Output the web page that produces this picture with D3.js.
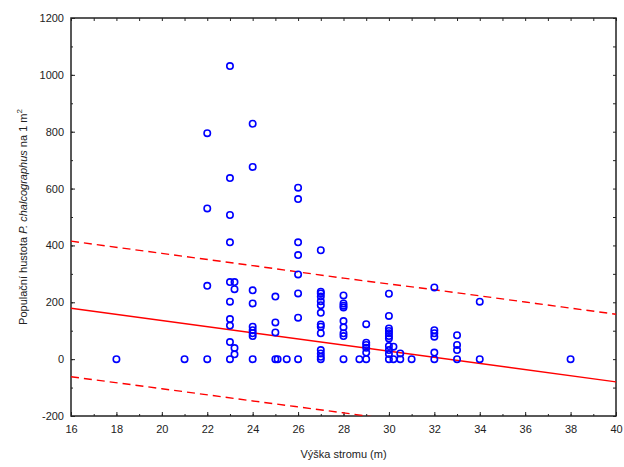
<!DOCTYPE html>
<html>
<head>
<meta charset="utf-8">
<script src="https://cdn.jsdelivr.net/npm/d3@7"></script>
<style>
  body { margin: 0; background: #fff; }
  text { font-family: "Liberation Sans", Arial, sans-serif; fill: #222; }
</style>
</head>
<body>
<div id="vis"></div>
<script>
// Tree height (m) vs. bark beetle density
var treeHeight = [
  18,
  21,
  22, 22, 22, 22,
  23, 23, 23, 23, 23, 23, 23, 23, 23, 23,
  23.2, 23.2, 23.2, 23.2,
  24, 24, 24, 24, 24, 24, 24, 24, 24,
  25, 25, 25, 25, 25.1,
  25.5,
  26, 26, 26, 26, 26, 26, 26, 26,
  27, 27, 27, 27, 27, 27, 27, 27, 27, 27, 27, 27, 27, 27,
  28, 28, 28, 28, 28, 28, 28, 28, 28,
  28.7,
  29, 29, 29, 29, 29, 29,
  30, 30, 30, 30, 30, 30, 30, 30, 30, 30, 30,
  30.2, 30.2,
  30.5, 30.5,
  31,
  32, 32, 32, 32, 32, 32,
  33, 33, 33, 33,
  34, 34,
  38
];
var density = [
  0,
  0,
  795, 530, 258, 0,
  1031, 637, 507, 411, 271, 202, 141, 118, 60, 0,
  271, 246, 39, 17,
  828, 676, 242, 196, 114, 102, 91, 81, 0,
  220, 129, 94, 0, 0,
  0,
  603, 563, 411, 366, 298, 231, 146, 0,
  383, 237, 231, 220, 204, 190, 163, 122, 114, 91, 32, 20, 8, 0,
  224, 196, 188, 182, 134, 112, 91, 81, 0,
  0,
  123, 58, 50, 40, 23, 0,
  230, 152, 108, 99, 91, 81, 73, 46, 32, 18, 0,
  44, 0,
  20, 0,
  0,
  252, 102, 91, 79, 23, 0,
  84, 50, 32, 0,
  202, 0,
  0
];

// fitted line and prediction band
var fitX = [16, 40];
var fitY = [179, -80];
var bandX = [16, 20, 24, 28, 32, 36, 40];
var bandUpper = [415, 372, 329, 285, 244, 201, 158];
var bandLower = [-62, -104, -147, -189, -232, -275, -318];

var xTicks = [16, 18, 20, 22, 24, 26, 28, 30, 32, 34, 36, 38, 40];
var yTicks = [-200, 0, 200, 400, 600, 800, 1000, 1200];

var margin = { top: 18, right: 8, bottom: 51, left: 71 };
var W = 624, H = 467;
var width = W - margin.left - margin.right;
var height = H - margin.top - margin.bottom;

var svg = d3.select('#vis').append('svg')
  .attr('width', W)
  .attr('height', H);

var vis = svg.append('g')
  .attr('transform', `translate(${margin.left},${margin.top})`);

var xScale = d3.scaleLinear().domain([16, 40]).range([0, width]);
var yScale = d3.scaleLinear().domain([-200, 1200]).range([height, 0]);

vis.append('clipPath').attr('id', 'plotclip')
  .append('rect').attr('width', width).attr('height', height);

// axes: labelled major ticks plus minor ticks, all pointing inward
function styleAxis(g) {
  g.select('.domain').remove();
  g.selectAll('line').attr('stroke', '#222').attr('stroke-width', 1);
  g.selectAll('text').attr('font-size', 11).attr('fill', '#222');
}
var plain = d => String(d);   // no thousands separator, ascii minus
var xMinor = d3.range(16, 41, 1);
var yMinor = d3.range(-200, 1201, 100);

vis.append('g').attr('transform', `translate(0,${height})`)
  .call(d3.axisBottom(xScale).tickValues(xMinor).tickSize(-2).tickFormat(''))
  .call(styleAxis);
vis.append('g').attr('transform', `translate(0,${height})`)
  .call(d3.axisBottom(xScale).tickValues(xTicks).tickSize(-4).tickPadding(9).tickFormat(plain))
  .call(styleAxis);
vis.append('g')
  .call(d3.axisTop(xScale).tickValues(xMinor).tickSize(-3).tickFormat(''))
  .call(styleAxis);
vis.append('g')
  .call(d3.axisLeft(yScale).tickValues(yMinor).tickSize(-2).tickFormat(''))
  .call(styleAxis);
vis.append('g')
  .call(d3.axisLeft(yScale).tickValues(yTicks).tickSize(-4).tickPadding(7).tickFormat(plain))
  .call(styleAxis);
vis.append('g').attr('transform', `translate(${width},0)`)
  .call(d3.axisRight(yScale).tickValues(yMinor).tickSize(-3).tickFormat(''))
  .call(styleAxis);

// frame
vis.append('rect')
  .attr('width', width).attr('height', height)
  .attr('fill', 'none').attr('stroke', '#222').attr('stroke-width', 1.5);

// regression line and dashed bands
var plot = vis.append('g').attr('clip-path', 'url(#plotclip)');
var line = d3.line().x(d => xScale(d[0])).y(d => yScale(d[1]));

plot.append('path')
  .datum(fitX.map((x, i) => [x, fitY[i]]))
  .attr('d', line)
  .attr('fill', 'none').attr('stroke', '#ff0000').attr('stroke-width', 1.4);

[bandUpper, bandLower].forEach(function (vals) {
  plot.append('path')
    .datum(bandX.map((x, i) => [x, vals[i]]))
    .attr('d', line.curve(d3.curveMonotoneX))
    .attr('fill', 'none').attr('stroke', '#ff0000').attr('stroke-width', 1.4)
    .attr('stroke-dasharray', '8,5');
});

// points
vis.append('g').selectAll('circle')
  .data(treeHeight.map((x, i) => [x, density[i]]))
  .join('circle')
  .attr('cx', d => xScale(d[0]))
  .attr('cy', d => yScale(d[1]))
  .attr('r', 3.2)
  .attr('fill', 'none')
  .attr('stroke', '#0000ff')
  .attr('stroke-width', 1.6);

// axis titles
svg.append('text')
  .attr('x', margin.left + width / 2)
  .attr('y', 458)
  .attr('text-anchor', 'middle')
  .attr('font-size', 11)
  .text('Výška stromu (m)');

var yl = svg.append('text')
  .attr('transform', `translate(27,${margin.top + height / 2}) rotate(-90)`)
  .attr('text-anchor', 'middle')
  .attr('font-size', 11);
yl.append('tspan').text('Populační hustota ');
yl.append('tspan').attr('font-style', 'italic').text('P. chalcographus');
yl.append('tspan').text(' na 1 m');
yl.append('tspan').attr('font-size', 8).attr('dy', -5).text('2');
</script>
</body>
</html>
